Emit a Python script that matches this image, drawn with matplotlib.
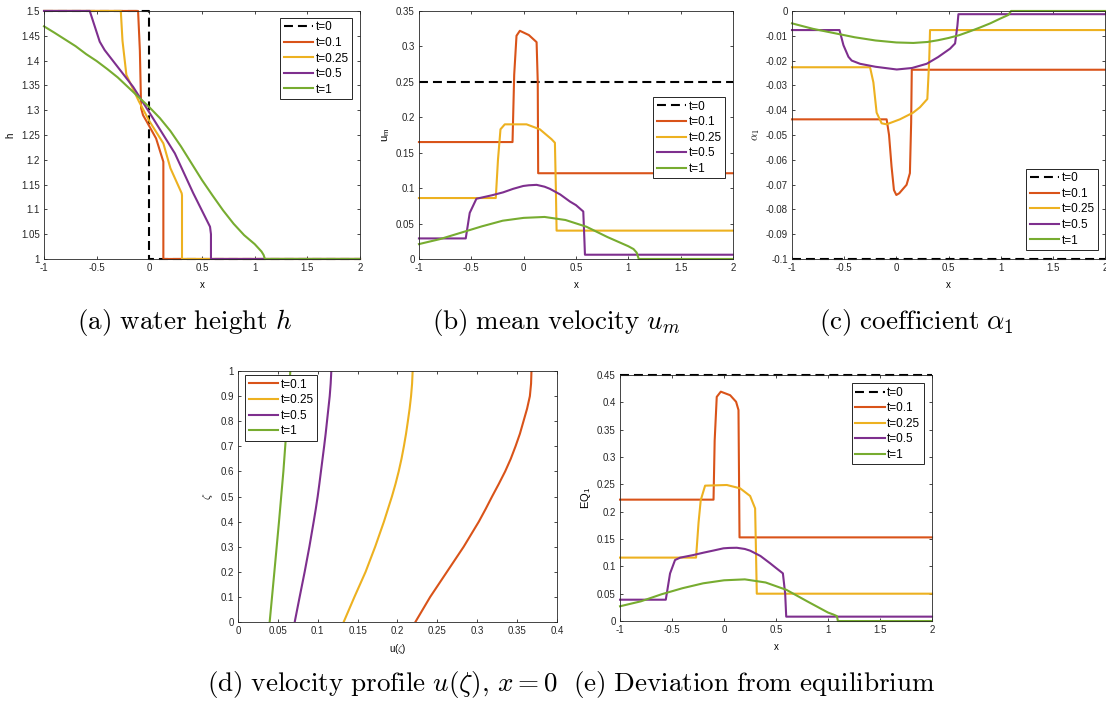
import matplotlib
matplotlib.use("Agg")
import matplotlib.pyplot as plt
from matplotlib.ticker import FuncFormatter

plt.rcParams['font.family'] = ['Liberation Sans', 'DejaVu Sans']
plt.rcParams['mathtext.fontset'] = 'cm'

C0, C1, C2, C3 = '#D95319', '#EDB120', '#7E2F8E', '#77AC30'
LABELS = ['t=0', 't=0.1', 't=0.25', 't=0.5', 't=1']

# (a) water height h
h_x0 = [-1, 0, 0, 2]
h_y0 = [1.5, 1.5, 1.0, 1.0]
h_x1 = [-1, -0.107, -0.09, -0.078, -0.06, -0.025, 0.064, 0.133, 0.133, 2]
h_y1 = [1.5, 1.5, 1.42, 1.304, 1.29, 1.277, 1.243, 1.196, 1.0, 1.0]
h_x2 = [-1, -0.271, -0.255, -0.218, -0.1, 0.0, 0.133, 0.2, 0.307, 0.31, 0.31, 2]
h_y2 = [1.5, 1.5, 1.44, 1.371, 1.318, 1.278, 1.233, 1.183, 1.1325, 1.128, 1.0, 1.0]
h_x3 = [-1, -0.566, -0.52, -0.471, -0.424, -0.154, 0.004, 0.242, 0.416, 0.576, 0.585, 0.585, 2]
h_y3 = [1.5, 1.5, 1.47, 1.438, 1.421, 1.347, 1.294, 1.213, 1.133, 1.065, 1.05, 1.0, 1.0]
h_x4 = [-1, -0.9, -0.8, -0.7, -0.6, -0.5, -0.4, -0.3, -0.2, -0.1, 0.0, 0.1, 0.2, 0.3,
        0.4, 0.5, 0.6, 0.7, 0.8, 0.9, 1.0, 1.065, 1.085, 1.097, 2]
h_y4 = [1.469, 1.456, 1.4425, 1.429, 1.413, 1.399, 1.383, 1.366, 1.346, 1.326, 1.306, 1.284, 1.258,
        1.227, 1.193, 1.159, 1.128, 1.098, 1.071, 1.048, 1.030, 1.015, 1.008, 1.0, 1.0]

# (b) mean velocity u_m
u_x0 = [-1, 2]
u_y0 = [0.25, 0.25]
u_x1 = [-1, -0.106, -0.09, -0.068, -0.036, 0.05, 0.124, 0.135, 0.139, 2]
u_y1 = [0.165, 0.165, 0.26, 0.315, 0.322, 0.316, 0.306, 0.25, 0.121, 0.121]
u_x2 = [-1, -0.266, -0.245, -0.221, -0.180, 0.028, 0.155, 0.267, 0.299, 0.308, 0.315, 2]
u_y2 = [0.086, 0.086, 0.14, 0.183, 0.190, 0.190, 0.183, 0.169, 0.164, 0.1, 0.04, 0.04]
u_x3 = [-1, -0.553, -0.515, -0.451, -0.3, -0.196, -0.1, -0.004, 0.05, 0.124, 0.2, 0.251, 0.35,
        0.443, 0.5, 0.570, 0.580, 0.586, 2]
u_y3 = [0.029, 0.029, 0.065, 0.085, 0.090, 0.094, 0.099, 0.103, 0.104, 0.1046, 0.102, 0.099, 0.091,
        0.081, 0.076, 0.067, 0.03, 0.006, 0.006]
u_x4 = [-1, -0.8, -0.6, -0.4, -0.2, 0.0, 0.2, 0.4, 0.6, 0.8, 1.0, 1.05, 1.08, 1.1, 2]
u_y4 = [0.021, 0.028, 0.037, 0.046, 0.054, 0.058, 0.0593, 0.055, 0.0455, 0.031, 0.018, 0.014, 0.009, 0.0, 0.0]

# (c) coefficient alpha_1
a_x0 = [-1, 2]
a_y0 = [-0.1, -0.1]
a_x1 = [-1, -0.093, -0.07, -0.046, -0.023, 0.0, 0.028, 0.098, 0.13, 0.142, 0.148, 2]
a_y1 = [-0.0437, -0.0437, -0.05, -0.0627, -0.0722, -0.0742, -0.0735, -0.0701, -0.0654, -0.045, -0.0237, -0.0237]
a_x2 = [-1, -0.252, -0.220, -0.189, -0.141, -0.093, 0.034, 0.161, 0.227, 0.297, 0.315, 0.323, 2]
a_y2 = [-0.0227, -0.0227, -0.0288, -0.041, -0.0453, -0.0457, -0.0437, -0.041, -0.0388, -0.0355, -0.02, -0.0077, -0.0077]
a_x3 = [-1, -0.545, -0.507, -0.459, -0.428, -0.348, -0.2, 0.004, 0.15, 0.291, 0.4, 0.515, 0.563, 0.585, 0.595, 2]
a_y3 = [-0.0077, -0.0077, -0.0138, -0.0185, -0.020, -0.0213, -0.0225, -0.0236, -0.0230, -0.0213, -0.0186, -0.0152,
        -0.0131, -0.006, -0.0013, -0.0013]
a_x4 = [-1, -0.8, -0.6, -0.4, -0.2, 0.0, 0.163, 0.3, 0.4, 0.5, 0.6, 0.7, 0.8, 0.9, 1.0, 1.074, 1.1, 2]
a_y4 = [-0.005, -0.0072, -0.0089, -0.0106, -0.0119, -0.0127, -0.0129, -0.0125, -0.0118, -0.0109, -0.0098,
        -0.0083, -0.0067, -0.005, -0.003, -0.0016, 0.0, 0.0]

# (d) velocity profile at x = 0
zeta = [0, 0.1, 0.2, 0.3, 0.4, 0.45, 0.5, 0.55, 0.6, 0.65, 0.7, 0.75, 0.8, 0.85, 0.9, 0.95, 1.0]
p_u1 = [0.2224, 0.241, 0.262, 0.283, 0.302, 0.3105, 0.3186, 0.327, 0.335, 0.342, 0.348, 0.3535, 0.358,
        0.3625, 0.366, 0.3675, 0.368]
p_u2 = [0.1325, 0.146, 0.160, 0.172, 0.183, 0.188, 0.193, 0.1975, 0.2015, 0.205, 0.208, 0.2107, 0.213,
        0.2152, 0.217, 0.2183, 0.219]
p_u3 = [0.0711, 0.0773, 0.0836, 0.0895, 0.0949, 0.0975, 0.0999, 0.102, 0.104, 0.106, 0.108, 0.1099, 0.1116,
        0.1133, 0.115, 0.1162, 0.117]
zeta4 = [0, 0.2, 0.4, 0.6, 0.8, 1.0]
p_u4 = [0.0397, 0.0456, 0.0514, 0.0569, 0.0615, 0.0656]

# (e) deviation from equilibrium EQ_1
e_x0 = [-1, 2]
e_y0 = [0.45, 0.45]
e_x1 = [-1, -0.101, -0.09, -0.07, -0.031, 0.059, 0.116, 0.139, 0.149, 2]
e_y1 = [0.222, 0.222, 0.33, 0.41, 0.4195, 0.413, 0.401, 0.386, 0.153, 0.153]
e_x2 = [-1, -0.269, -0.245, -0.224, -0.182, 0.027, 0.155, 0.251, 0.299, 0.308, 0.315, 2]
e_y2 = [0.116, 0.116, 0.18, 0.221, 0.2476, 0.2488, 0.2427, 0.2287, 0.206, 0.12, 0.05, 0.05]
e_x3 = [-1, -0.56, -0.519, -0.471, -0.4225, -0.3, -0.198, -0.1, -0.005, 0.05, 0.123, 0.2, 0.251, 0.35,
        0.444, 0.5, 0.566, 0.588, 0.598, 2]
e_y3 = [0.039, 0.039, 0.087, 0.1116, 0.1159, 0.1205, 0.125, 0.129, 0.133, 0.1337, 0.134, 0.1318, 0.1287,
        0.119, 0.1055, 0.097, 0.0872, 0.05, 0.008, 0.008]
e_x4 = [-1, -0.8, -0.6, -0.4, -0.2, 0.0, 0.2, 0.4, 0.6, 0.8, 1.0, 1.05, 1.085, 1.095, 2]
e_y4 = [0.027, 0.036, 0.049, 0.060, 0.069, 0.0745, 0.0762, 0.0705, 0.057, 0.036, 0.0155, 0.012, 0.009, 0.0, 0.0]

X_TICKS = [-1, -0.5, 0, 0.5, 1, 1.5, 2]
FS = 7
LW = 1.5
DASH = (4.3, 2.4)


def fmt(v, pos):
    return '%g' % round(v, 6)


def style(ax, xticks, yticks, xlim, ylim):
    ax.set_xlim(xlim)
    ax.set_ylim(ylim)
    ax.set_xticks(xticks)
    ax.set_yticks(yticks)
    ax.xaxis.set_major_formatter(FuncFormatter(fmt))
    ax.yaxis.set_major_formatter(FuncFormatter(fmt))
    ax.tick_params(direction='in', top=True, right=True, length=2.5, width=0.6,
                   labelsize=FS, colors='#262626', pad=3)
    for s in ax.spines.values():
        s.set_linewidth(0.6)
        s.set_color('#262626')


def legend(ax, loc, anchor):
    lg = ax.legend(loc=loc, bbox_to_anchor=anchor, borderaxespad=0, fontsize=8.5,
                   handlelength=2.5, handletextpad=0.2, labelspacing=0.3,
                   borderpad=0.3, fancybox=False, framealpha=1, edgecolor='#262626')
    lg.get_frame().set_linewidth(0.7)


fig = plt.figure(figsize=(11.06, 7.07), dpi=100)

ax_a = fig.add_axes([0.0398, 0.6337, 0.2857, 0.3508])
ax_b = fig.add_axes([0.3788, 0.6337, 0.2839, 0.3508])
ax_c = fig.add_axes([0.7161, 0.6337, 0.2830, 0.3508])
ax_d = fig.add_axes([0.2152, 0.1202, 0.2884, 0.3550])
ax_e = fig.add_axes([0.5606, 0.1216, 0.2821, 0.3480])

# (a)
ax_a.plot(h_x0, h_y0, '--', color='k', lw=LW, label=LABELS[0], dashes=DASH)
ax_a.plot(h_x1, h_y1, color=C0, lw=LW, label=LABELS[1])
ax_a.plot(h_x2, h_y2, color=C1, lw=LW, label=LABELS[2])
ax_a.plot(h_x3, h_y3, color=C2, lw=LW, label=LABELS[3])
ax_a.plot(h_x4, h_y4, color=C3, lw=LW, label=LABELS[4])
style(ax_a, X_TICKS, [1 + 0.05 * i for i in range(11)], (-1, 2), (1, 1.5))
ax_a.set_xlabel('x', fontsize=FS, labelpad=5)
ax_a.set_ylabel('h', fontsize=FS, labelpad=4)
legend(ax_a, 'upper right', (0.975, 0.972))

# (b)
ax_b.plot(u_x0, u_y0, '--', color='k', lw=LW, label=LABELS[0], dashes=DASH)
ax_b.plot(u_x1, u_y1, color=C0, lw=LW, label=LABELS[1])
ax_b.plot(u_x2, u_y2, color=C1, lw=LW, label=LABELS[2])
ax_b.plot(u_x3, u_y3, color=C2, lw=LW, label=LABELS[3])
ax_b.plot(u_x4, u_y4, color=C3, lw=LW, label=LABELS[4])
style(ax_b, X_TICKS, [0.05 * i for i in range(8)], (-1, 2), (0, 0.35))
ax_b.set_xlabel('x', fontsize=FS, labelpad=5)
ax_b.set_ylabel(r'u$_\mathregular{m}$', fontsize=FS + 1, labelpad=3)
legend(ax_b, 'upper right', (0.975, 0.653))

# (c)
ax_c.plot(a_x0, a_y0, '--', color='k', lw=LW, label=LABELS[0], dashes=DASH)
ax_c.plot(a_x1, a_y1, color=C0, lw=LW, label=LABELS[1])
ax_c.plot(a_x2, a_y2, color=C1, lw=LW, label=LABELS[2])
ax_c.plot(a_x3, a_y3, color=C2, lw=LW, label=LABELS[3])
ax_c.plot(a_x4, a_y4, color=C3, lw=LW, label=LABELS[4])
style(ax_c, X_TICKS, [-0.1 + 0.01 * i for i in range(11)], (-1, 2), (-0.1, 0))
ax_c.set_xlabel('x', fontsize=FS, labelpad=5)
ax_c.set_ylabel(r'$\alpha_1$', fontsize=FS + 1, labelpad=3)
legend(ax_c, 'lower right', (0.978, 0.036))

# (d)
ax_d.plot(p_u1, zeta, color=C0, lw=LW, label=LABELS[1])
ax_d.plot(p_u2, zeta, color=C1, lw=LW, label=LABELS[2])
ax_d.plot(p_u3, zeta, color=C2, lw=LW, label=LABELS[3])
ax_d.plot(p_u4, zeta4, color=C3, lw=LW, label=LABELS[4])
style(ax_d, [0.05 * i for i in range(9)], [0.1 * i for i in range(11)], (0, 0.4), (0, 1))
ax_d.set_xlabel(r'u($\zeta$)', fontsize=FS, labelpad=4)
ax_d.set_ylabel(r'$\zeta$', fontsize=FS + 1, labelpad=4)
legend(ax_d, 'upper left', (0.022, 0.984))

# (e)
ax_e.plot(e_x0, e_y0, '--', color='k', lw=LW, label=LABELS[0], dashes=DASH)
ax_e.plot(e_x1, e_y1, color=C0, lw=LW, label=LABELS[1])
ax_e.plot(e_x2, e_y2, color=C1, lw=LW, label=LABELS[2])
ax_e.plot(e_x3, e_y3, color=C2, lw=LW, label=LABELS[3])
ax_e.plot(e_x4, e_y4, color=C3, lw=LW, label=LABELS[4])
style(ax_e, X_TICKS, [0.05 * i for i in range(10)], (-1, 2), (0, 0.45))
ax_e.set_xlabel('x', fontsize=FS, labelpad=5)
ax_e.set_ylabel(r'EQ$_\mathregular{1}$', fontsize=FS + 1, labelpad=3)
legend(ax_e, 'upper right', (0.974, 0.967))

# lines sitting on the axes edges should not be cut in half
for a in (ax_a, ax_b, ax_c, ax_e):
    for ln in a.get_lines():
        ln.set_clip_on(False)

# captions
CAP = 19.5
fig.text(0.167, 0.5445, r'$\mathrm{(a)\ water\ height}\ h$', ha='center', va='center', fontsize=CAP)
fig.text(0.503, 0.5445, r'$\mathrm{(b)\ mean\ velocity}\ u_m$', ha='center', va='center', fontsize=CAP)
fig.text(0.829, 0.5445, r'$\mathrm{(c)\ coefficient}\ \alpha_1$', ha='center', va='center', fontsize=CAP)
fig.text(0.346, 0.0325, r'$\mathrm{(d)\ velocity\ profile}\ u(\zeta),\, x=0$', ha='center', va='center', fontsize=CAP)
fig.text(0.682, 0.0325, r'$\mathrm{(e)\ Deviation\ from\ equilibrium}$', ha='center', va='center', fontsize=CAP)

fig.savefig('out.png', dpi=100)
